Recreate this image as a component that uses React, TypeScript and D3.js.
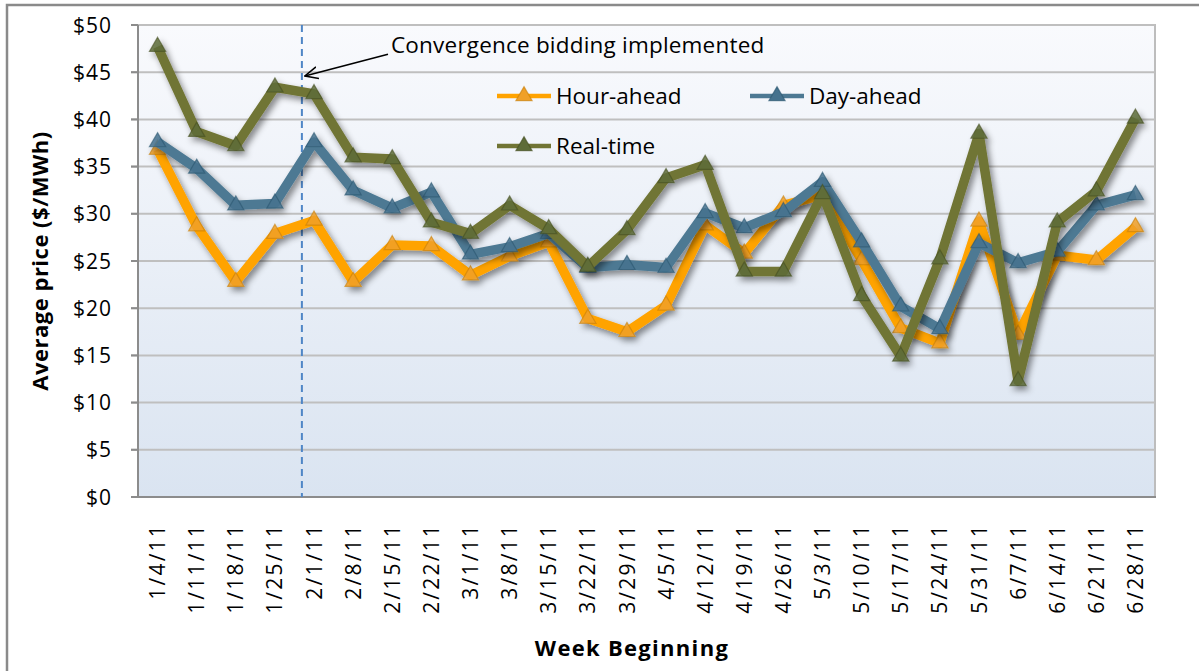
import React, { useEffect, useRef } from 'react';
import * as d3 from 'd3';

const W = 1199;
const H = 671;
const PLOT = { left: 138, right: 1155, top: 25, bottom: 497 };
const FONT = "'Open Sans', 'Noto Sans', sans-serif";

const weeks = [
    '1/4/11', '1/11/11', '1/18/11', '1/25/11', '2/1/11', '2/8/11', '2/15/11', '2/22/11', '3/1/11',
    '3/8/11', '3/15/11', '3/22/11', '3/29/11', '4/5/11', '4/12/11', '4/19/11', '4/26/11', '5/3/11',
    '5/10/11', '5/17/11', '5/24/11', '5/31/11', '6/7/11', '6/14/11', '6/21/11', '6/28/11',
];

const hourAhead = [
    36.8, 28.7, 22.8, 27.9, 29.3, 22.8, 26.7, 26.6, 23.5, 25.5, 27.0, 18.9, 17.5,
    20.3, 28.8, 25.8, 30.9, 32.0, 25.1, 17.9, 16.3, 29.2, 17.2, 25.6, 25.1, 28.6,
];
const dayAhead = [
    37.6, 34.8, 30.9, 31.1, 37.6, 32.5, 30.6, 32.3, 25.7, 26.5, 27.9, 24.3, 24.6,
    24.3, 30.1, 28.5, 30.2, 33.4, 27.0, 20.2, 17.8, 26.9, 24.8, 26.0, 30.9, 32.0,
];
const realTime = [
    47.7, 38.7, 37.2, 43.4, 42.7, 36.0, 35.8, 29.1, 27.9, 30.9, 28.4, 24.4, 28.3,
    33.8, 35.2, 23.9, 23.9, 32.1, 21.3, 14.9, 25.2, 38.5, 12.3, 29.1, 32.4, 40.1,
];

const yTicks = [0, 5, 10, 15, 20, 25, 30, 35, 40, 45, 50];

const series = [
    { name: 'Hour-ahead', values: hourAhead, line: '#FFA300', marker: '#F0A028', edge: '#C77F0A' },
    { name: 'Day-ahead', values: dayAhead, line: '#4D7993', marker: '#45728E', edge: '#2C5670' },
    { name: 'Real-time', values: realTime, line: '#707434', marker: '#5E6C38', edge: '#454F22' },
];

const Chart: React.FC = () => {
    const svgRef = useRef<SVGSVGElement>(null);

    useEffect(() => {
        if (!svgRef.current) return;
        const svg = d3.select(svgRef.current);
        svg.selectAll("*").remove();

        const x = d3.scalePoint<string>().domain(weeks).range([PLOT.left, PLOT.right]).padding(0.5);
        const y = d3.scaleLinear().domain([0, 50]).range([PLOT.bottom, PLOT.top]);

        const defs = svg.append("defs");
        const grad = defs.append("linearGradient").attr("id", "bg").attr("x1", 0).attr("y1", 0).attr("x2", 0).attr("y2", 1);
        grad.append("stop").attr("offset", "0%").attr("stop-color", "#F9FAFD");
        grad.append("stop").attr("offset", "100%").attr("stop-color", "#DAE4F1");
        const f = defs.append("filter").attr("id", "shadow").attr("x", "-10%").attr("y", "-10%").attr("width", "130%").attr("height", "130%");
        f.append("feDropShadow").attr("dx", 3).attr("dy", 4).attr("stdDeviation", 3)
            .attr("flood-color", "#000").attr("flood-opacity", 0.45);
        defs.append("marker").attr("id", "arrow").attr("viewBox", "0 0 14 14").attr("refX", 13).attr("refY", 7)
            .attr("markerWidth", 14).attr("markerHeight", 14).attr("markerUnits", "userSpaceOnUse").attr("orient", "auto")
            .append("path").attr("d", "M0,1 L13,7 L0,13").attr("fill", "none").attr("stroke", "#000").attr("stroke-width", 1.6);

        // outer chart border
        svg.append("rect").attr("x", 7).attr("y", 5).attr("width", W).attr("height", H)
            .attr("fill", "white").attr("stroke", "#8A8A8A").attr("stroke-width", 2.5);

        // plot area
        svg.append("rect").attr("x", PLOT.left).attr("y", PLOT.top)
            .attr("width", PLOT.right - PLOT.left).attr("height", PLOT.bottom - PLOT.top)
            .attr("fill", "url(#bg)").attr("stroke", "#BDBDBD").attr("stroke-width", 2);

        svg.append("g").selectAll("line").data(yTicks).enter().append("line")
            .attr("x1", PLOT.left - 7).attr("x2", PLOT.right)
            .attr("y1", d => y(d)).attr("y2", d => y(d))
            .attr("stroke", "#BFBFBF").attr("stroke-width", 2);

        // axes
        svg.append("line").attr("x1", PLOT.left).attr("x2", PLOT.left).attr("y1", PLOT.top).attr("y2", PLOT.bottom)
            .attr("stroke", "#8C8C8C").attr("stroke-width", 2);
        svg.append("line").attr("x1", PLOT.left - 7).attr("x2", PLOT.right + 1).attr("y1", PLOT.bottom).attr("y2", PLOT.bottom)
            .attr("stroke", "#8C8C8C").attr("stroke-width", 2);
        svg.append("g").selectAll("line").data(yTicks).enter().append("line")
            .attr("x1", PLOT.left - 7).attr("x2", PLOT.left)
            .attr("y1", d => y(d)).attr("y2", d => y(d))
            .attr("stroke", "#8C8C8C").attr("stroke-width", 2);

        svg.append("g").selectAll("text").data(yTicks).enter().append("text")
            .attr("x", 112).attr("y", d => y(d)).attr("dy", "0.36em")
            .attr("text-anchor", "end")
            .style("font-family", FONT).style("font-size", "21px").style("letter-spacing", "1px")
            .text(d => `$${d}`);

        svg.append("g").selectAll("text").data(weeks).enter().append("text")
            .attr("transform", d => `translate(${x(d)!},${PLOT.bottom + 26}) rotate(-90)`)
            .attr("dy", "0.36em").attr("text-anchor", "end")
            .style("font-family", FONT).style("font-size", "21px").style("letter-spacing", "2.2px")
            .text(d => d);

        svg.append("text")
            .attr("transform", `translate(40,${(PLOT.top + PLOT.bottom) / 2}) rotate(-90)`)
            .attr("dy", "0.36em").attr("text-anchor", "middle")
            .style("font-family", FONT).style("font-size", "22px").style("font-weight", "700")
            .style("letter-spacing", "0.5px")
            .text("Average price ($/MWh)");

        svg.append("text")
            .attr("x", 632).attr("y", 656).attr("text-anchor", "middle")
            .style("font-family", FONT).style("font-size", "22px").style("font-weight", "700").style("letter-spacing", "1.3px")
            .text("Week Beginning");

        // convergence bidding marker
        const step = x.step();
        const cx = x('1/25/11')! + step * 0.69;
        svg.append("line").attr("x1", cx).attr("x2", cx).attr("y1", PLOT.top).attr("y2", PLOT.bottom)
            .attr("stroke", "#4F86C6").attr("stroke-width", 2).attr("stroke-dasharray", "7,5");

        // series
        const line = d3.line<number>().x((_, i) => x(weeks[i])!).y(d => y(d));
        const tri = d3.symbol().type(d3.symbolTriangle).size(115);
        series.forEach(s => {
            const g = svg.append("g").attr("filter", "url(#shadow)");
            g.append("path").datum(s.values).attr("d", line)
                .attr("fill", "none").attr("stroke", s.line).attr("stroke-width", 9.5).attr("stroke-linejoin", "round");
            g.selectAll("path.m").data(s.values).enter().append("path")
                .attr("class", "m")
                .attr("transform", (d, i) => `translate(${x(weeks[i])!},${y(d)})`)
                .attr("d", tri())
                .attr("fill", s.marker).attr("fill-opacity", 0.85)
                .attr("stroke", s.edge).attr("stroke-opacity", 0.6).attr("stroke-width", 1.2);
        });

        svg.append("line")
            .attr("x1", 388).attr("y1", y(46.9))
            .attr("x2", cx + 3).attr("y2", y(44.6))
            .attr("stroke", "#000").attr("stroke-width", 1.6).attr("marker-end", "url(#arrow)");
        svg.append("text").attr("x", 391).attr("y", 53)
            .style("font-family", FONT).style("font-size", "22.5px").style("letter-spacing", "0.2px")
            .text("Convergence bidding implemented");

        // legend
        const legendItems = [
            { s: series[0], x: 497, y: 96 },
            { s: series[1], x: 750, y: 96 },
            { s: series[2], x: 497, y: 146 },
        ];
        const lg = svg.append("g");
        legendItems.forEach(it => {
            lg.append("line").attr("x1", it.x).attr("x2", it.x + 54).attr("y1", it.y).attr("y2", it.y)
                .attr("stroke", it.s.line).attr("stroke-width", 4.5);
            lg.append("path").attr("transform", `translate(${it.x + 27},${it.y})`).attr("d", tri())
                .attr("fill", it.s.marker).attr("stroke", it.s.edge).attr("stroke-opacity", 0.6).attr("stroke-width", 1.2);
            lg.append("text").attr("x", it.x + 59).attr("y", it.y).attr("dy", "0.36em")
                .style("font-family", FONT).style("font-size", "22.5px")
                .text(it.s.name);
        });
    }, []);

    return <svg ref={svgRef} width={W} height={H} style={{ display: 'block' }} />;
};

export default function App() {
    useEffect(() => {
        document.body.style.margin = '0';
    }, []);
    return <Chart />;
}
